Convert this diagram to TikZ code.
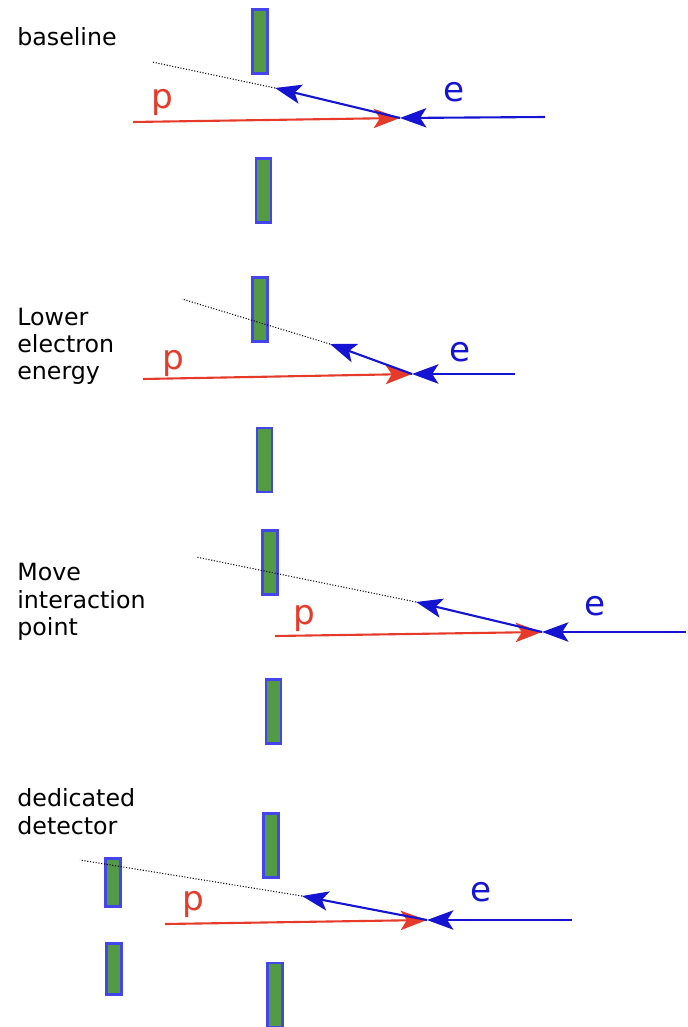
\documentclass[tikz,border=0pt]{standalone}
\usepackage{fontspec}
\setmainfont{DejaVu Sans}
\usepackage{xcolor}
\definecolor{cRed}  {HTML}{E63B2B}
\definecolor{cBlue} {HTML}{1414D2}
\definecolor{cGreen}{HTML}{539A45}
\definecolor{cEdge} {HTML}{4545EE}
\usepackage{tikz}
\usetikzlibrary{arrows.meta, positioning}
\tikzset{
  det/.style   = {rectangle, draw=cEdge, line width=1.5pt, fill=cGreen,
                  minimum width=0.30cm, minimum height=#1, inner sep=0pt},
  det/.default = 1.28cm,
  tip/.style   = {-{Stealth[length=15pt, width=11pt, inset=3.5pt]}},
  pbeam/.style = {tip, draw=cRed, line width=1.2pt},
  ebeam/.style = {tip, draw=cBlue, line width=1.2pt},
  trace/.style = {densely dotted, line width=0.6pt, black},
}

\begin{document}
\begin{tikzpicture}[
  x=0.02cm, y=-0.02cm,
  case/.style={anchor=north west, inner sep=0pt, align=left,
               font=\fontsize{13.5}{15.6}\selectfont},
  lbl/.style={inner sep=0pt, text=#1, font=\fontsize{19.5}{22}\selectfont},
]
  \useasboundingbox (0,0) rectangle (688,1027);

  %% Case labels
  \node[case] (base)  at (17,27.5)  {baseline};
  \node[case] (lower) at (17,307.5) {Lower\\electron\\energy};
  \node[case] (move)  at (17,563)   {Move\\interaction\\point};
  \node[case] (dedic) at (17,788.5) {dedicated\\detector};

  %% Detector pieces
  \node[det] (d1a) at (260,41.5)  {};
  \node[det] (d1b) at (263.5,190.5) {};
  \node[det] (d2a) at (260,309.5) {};
  \node[det] (d2b) at (264.5,460) {};
  \node[det] (d3a) at (270,562.5) {};
  \node[det] (d3b) at (273.5,711.5) {};
  \node[det] (d4a) at (271,845.5) {};
  \node[det] (d4b) at (275,995)   {};
  \node[det=0.97cm] (d4c) at (113,882.5) {};
  \node[det=1.03cm] (d4d) at (114,969)   {};

  %% Beams: baseline
  \coordinate (ip1) at (400,118);
  \coordinate (ps1) at (133,122);
  \coordinate (es1) at (545,117);
  \coordinate (sc1) at (275,88);
  \coordinate (dt1) at (152,62);
  \draw[pbeam] (ps1) -- (ip1);
  \draw[ebeam] (es1) -- (ip1);
  \draw[ebeam] (ip1) -- (sc1);
  \draw[trace] (sc1) -- (dt1);
  \node[lbl=cRed]  (p1) at (162,102) {p};
  \node[lbl=cBlue] (e1) at (454,92)  {e};

  %% Beams: lower electron energy
  \coordinate (ip2) at (412,374);
  \coordinate (ps2) at (143,379);
  \coordinate (es2) at (515,374);
  \coordinate (sc2) at (330,344);
  \coordinate (dt2) at (182,299);
  \draw[pbeam] (ps2) -- (ip2);
  \draw[ebeam] (es2) -- (ip2);
  \draw[ebeam] (ip2) -- (sc2);
  \draw[trace] (sc2) -- (dt2);
  \node[lbl=cRed]  (p2) at (173,363) {p};
  \node[lbl=cBlue] (e2) at (460,352) {e};

  %% Beams: moved interaction point
  \coordinate (ip3) at (542,632);
  \coordinate (ps3) at (275,636);
  \coordinate (es3) at (686,632);
  \coordinate (sc3) at (416,602);
  \coordinate (dt3) at (196,557);
  \draw[pbeam] (ps3) -- (ip3);
  \draw[ebeam] (es3) -- (ip3);
  \draw[ebeam] (ip3) -- (sc3);
  \draw[trace] (sc3) -- (dt3);
  \node[lbl=cRed]  (p3) at (304,618) {p};
  \node[lbl=cBlue] (e3) at (595,606) {e};

  %% Beams: dedicated detector
  \coordinate (ip4) at (427,920);
  \coordinate (ps4) at (165,924);
  \coordinate (es4) at (572,920);
  \coordinate (sc4) at (302,896);
  \coordinate (dt4) at (80,860);
  \draw[pbeam] (ps4) -- (ip4);
  \draw[ebeam] (es4) -- (ip4);
  \draw[ebeam] (ip4) -- (sc4);
  \draw[trace] (sc4) -- (dt4);
  \node[lbl=cRed]  (p4) at (193,904) {p};
  \node[lbl=cBlue] (e4) at (481,892) {e};

\end{tikzpicture}
\end{document}
